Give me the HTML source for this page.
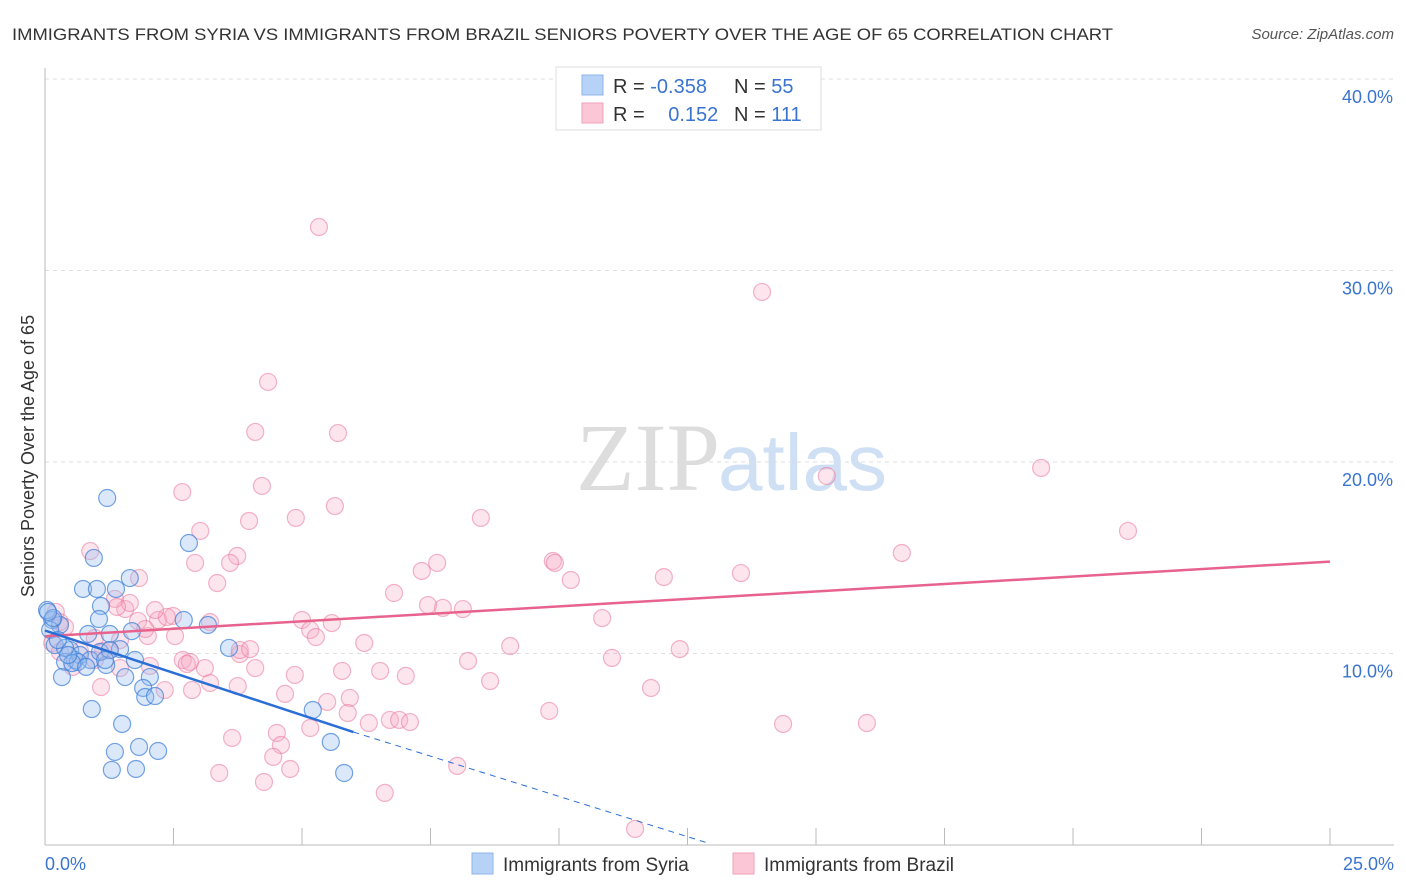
<!DOCTYPE html>
<html><head><meta charset="utf-8"><style>
body{margin:0;background:#fff;font-family:"Liberation Sans",sans-serif}
#wrap{position:relative;width:1406px;height:892px;overflow:hidden}
</style></head><body><div id="wrap">
<svg id="svg" width="1406" height="892" xmlns="http://www.w3.org/2000/svg">
<text x="12" y="40" font-size="17" fill="#333" textLength="1101" lengthAdjust="spacingAndGlyphs">IMMIGRANTS FROM SYRIA VS IMMIGRANTS FROM BRAZIL SENIORS POVERTY OVER THE AGE OF 65 CORRELATION CHART</text>
<text x="1394" y="39" font-size="15" fill="#555" font-style="italic" text-anchor="end">Source: ZipAtlas.com</text>
<text x="720" y="490" font-size="96" fill="#ddd" text-anchor="end" font-family="Liberation Serif">ZIP</text>
<text x="718" y="490" font-size="80" fill="#cfe0f5">atlas</text>
<text transform="translate(34,456) rotate(-90)" font-size="18" fill="#333" text-anchor="middle">Seniors Poverty Over the Age of 65</text>
<g id="grid"></g><g id="marks"></g>
<g>
<rect x="556" y="67" width="265" height="63" fill="#fff" stroke="#ddd"/>
<rect x="582" y="75" width="21" height="20" fill="#b7d2f7" stroke="#8fb5ea"/>
<rect x="582" y="103" width="21" height="20" fill="#fbc7d6" stroke="#f0a0b8"/>
<text x="613" y="93" font-size="20" fill="#333">R = <tspan fill="#3a74d0">-0.358</tspan></text>
<text x="734" y="93" font-size="20" fill="#333">N = <tspan fill="#3a74d0">55</tspan></text>
<text x="613" y="121" font-size="20" fill="#333">R = <tspan fill="#3a74d0" dx="18">0.152</tspan></text>
<text x="734" y="121" font-size="20" fill="#333">N = <tspan fill="#3a74d0">111</tspan></text>
</g>
<g>
<rect x="472" y="853" width="21" height="21" fill="#b7d2f7" stroke="#8fb5ea"/>
<text x="503" y="871" font-size="19" fill="#333">Immigrants from Syria</text>
<rect x="733" y="853" width="21" height="21" fill="#fbc7d6" stroke="#f0a0b8"/>
<text x="764" y="871" font-size="19" fill="#333">Immigrants from Brazil</text>
</g>
<text x="45" y="870" font-size="18" fill="#3a74d0">0.0%</text>
<text x="1394" y="870" font-size="18" fill="#3a74d0" text-anchor="end">25.0%</text>
</svg></div>
<script>
const yTicks=[10,20,30,40];
const syriaX=[], syriaY=[], brazilX=[], brazilY=[];
const syriaPx=[[107,498],[94,558],[83,589],[97,589],[101,606],[130,578],[116,589],[99,619],[110,634],[132,631],[120,649],[125,677],[106,665],[88,634],[60,625],[52,620],[50,630],[47,610],[55,645],[70,650],[75,660],[65,662],[80,655],[90,660],[65,648],[62,677],[78,662],[100,652],[135,660],[150,677],[143,688],[145,697],[155,696],[92,709],[122,724],[115,752],[139,747],[158,751],[112,770],[136,769],[189,543],[184,620],[208,625],[229,648],[313,710],[331,742],[344,773],[53,618],[58,640],[72,663],[86,667],[110,650],[105,660],[48,612],[68,655]];
const brazilPx=[[319,227],[762,292],[268,382],[255,432],[338,433],[262,486],[182,492],[296,518],[335,506],[249,521],[200,531],[237,556],[195,563],[217,583],[139,578],[90,551],[230,563],[1041,468],[827,476],[1128,531],[902,553],[741,573],[664,577],[571,580],[553,561],[555,563],[481,518],[437,563],[422,571],[394,593],[443,608],[428,605],[463,609],[602,618],[680,649],[510,646],[612,658],[468,661],[490,681],[651,688],[549,711],[783,724],[867,723],[635,829],[385,793],[264,782],[219,773],[232,738],[277,733],[281,745],[290,769],[273,757],[364,643],[302,620],[310,630],[332,623],[316,637],[380,671],[406,676],[342,671],[295,675],[285,694],[327,702],[350,698],[348,713],[369,723],[390,720],[399,720],[410,722],[457,766],[240,654],[238,686],[205,668],[210,683],[192,690],[165,690],[150,666],[148,636],[158,620],[173,616],[167,617],[125,609],[130,603],[115,599],[117,607],[120,640],[175,636],[240,650],[250,649],[183,660],[190,662],[101,687],[103,651],[110,650],[60,622],[65,627],[56,612],[52,643],[60,652],[80,651],[95,638],[73,667],[120,668],[155,610],[210,622],[187,664],[95,660],[310,728],[255,668],[138,621],[145,629]];
</script>
<script>
const X0=45,X1=1330,Y0=845,PPY=19.15;
const xs=v=>X0+(v/25)*(X1-X0), ys=v=>Y0-v*PPY;
syriaPx.forEach(p=>{syriaX.push(+((p[0]-X0)/(X1-X0)*25).toFixed(2));syriaY.push(+((Y0-p[1])/PPY).toFixed(2));});
brazilPx.forEach(p=>{brazilX.push(+((p[0]-X0)/(X1-X0)*25).toFixed(2));brazilY.push(+((Y0-p[1])/PPY).toFixed(2));});
const syriaTrend=[0,11.2,6.0,5.9,12.9,0.1];
const brazilTrend=[0,10.9,25,14.8];
const NS="http://www.w3.org/2000/svg";
function mk(t,a,par){const e=document.createElementNS(NS,t);for(const k in a)e.setAttribute(k,a[k]);par.appendChild(e);return e;}
const grid=document.getElementById('grid'),marks=document.getElementById('marks');
yTicks.forEach(t=>{
 const l=mk('line',{x1:45,x2:1394,y1:ys(t),y2:ys(t),stroke:'#ddd','stroke-dasharray':'4,4'},grid);
 
 
 const tx=mk('text',{x:1393,y:ys(t)+24,'font-size':18,fill:'#3a74d0','text-anchor':'end'},grid);
 tx.textContent=t.toFixed(1)+'%';
 
 
});
const ax=mk('line',{x1:45,x2:45,y1:68,y2:845,stroke:'#bbb'},grid);


const bx=mk('line',{x1:45,x2:1394,y1:845,y2:845,stroke:'#bbb'},grid);


for(let i=1;i<=10;i++){const t=mk('line',{x1:xs(i*2.5),x2:xs(i*2.5),y1:828,y2:845,stroke:'#bbb'},grid);
 
 }
brazilX.forEach((v,i)=>{const c=mk('circle',{cx:xs(v),cy:ys(brazilY[i]),r:8.5,fill:'rgba(248,170,195,0.3)',stroke:'rgba(232,120,155,0.55)','stroke-width':1.2},marks);
 
 });
syriaX.forEach((v,i)=>{const c=mk('circle',{cx:xs(v),cy:ys(syriaY[i]),r:8.5,fill:'rgba(150,190,240,0.35)',stroke:'rgba(60,125,215,0.7)','stroke-width':1.2},marks);
 
 });
const pl=mk('line',{x1:xs(brazilTrend[0]),y1:ys(brazilTrend[1]),x2:xs(brazilTrend[2]),y2:ys(brazilTrend[3]),stroke:'#e8628e','stroke-width':2.5},marks);


const sl=mk('line',{x1:xs(syriaTrend[0]),y1:ys(syriaTrend[1]),x2:xs(syriaTrend[2]),y2:ys(syriaTrend[3]),stroke:'#2a6fd6','stroke-width':2.5},marks);


const sd=mk('line',{x1:xs(syriaTrend[2]),y1:ys(syriaTrend[3]),x2:xs(syriaTrend[4]),y2:ys(syriaTrend[5]),stroke:'#2a6fd6','stroke-width':1,'stroke-dasharray':'6,5'},marks);


</script></body></html>
